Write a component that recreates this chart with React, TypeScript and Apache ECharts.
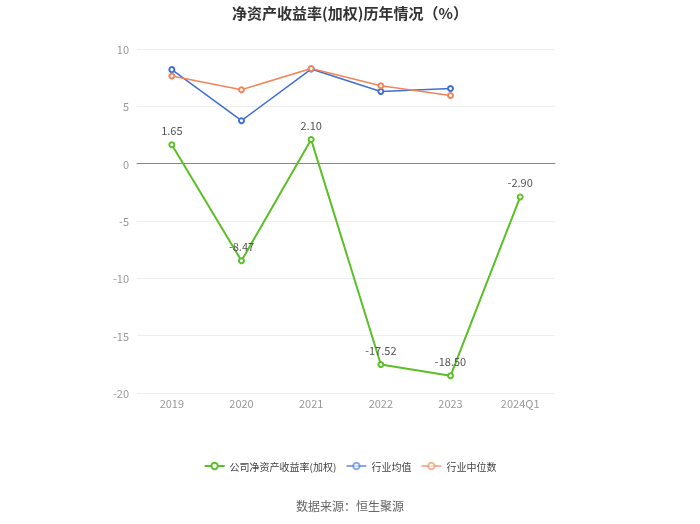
import React, { useEffect, useRef } from "react";
import * as echarts from "echarts";

const categories = ["2019", "2020", "2021", "2022", "2023", "2024Q1"];
const companyRoe = [1.65, -8.47, 2.1, -17.52, -18.5, -2.9];
const industryAvg = [8.2, 3.75, 8.25, 6.3, 6.55, null];
const industryMedian = [7.65, 6.45, 8.3, 6.8, 5.95, null];
const yTicks = { min: -20, max: 10, interval: 5 };

export default function App() {
  const ref = useRef<HTMLDivElement>(null);
  useEffect(() => {
    if (!ref.current) return;
    const chart = echarts.init(ref.current, undefined, { renderer: "svg" });
    const font = "'Microsoft YaHei', 'Noto Sans CJK SC', sans-serif";
    chart.setOption({
      animation: false,
      textStyle: { fontFamily: font },
      title: {
        text: "净资产收益率(加权)历年情况（%）",
        left: "center",
        top: 0,
        textStyle: { fontSize: 15, fontWeight: "bold", color: "#333", fontFamily: font },
      },
      grid: { left: 137, right: 145, top: 49, bottom: 131 },
      legend: {
        top: 456,
        left: "center",
        itemWidth: 20,
        itemHeight: 8,
        itemGap: 9,
        textStyle: { fontSize: 10, color: "#444" },
        data: [
          { name: "公司净资产收益率(加权)" },
          { name: "行业均值", itemStyle: { opacity: 0.6 }, lineStyle: { opacity: 0.6 } },
          { name: "行业中位数", itemStyle: { opacity: 0.6 }, lineStyle: { opacity: 0.6 } },
        ],
      },
      graphic: [
        {
          type: "text",
          left: "center",
          top: 499,
          style: { text: "数据来源：恒生聚源", fontSize: 12, fill: "#666", fontFamily: font },
        },
      ],
      xAxis: {
        type: "category",
        data: categories,
        boundaryGap: true,
        axisLine: { onZero: true, lineStyle: { color: "#888" } },
        axisTick: { alignWithLabel: true, lineStyle: { color: "#888" } },
        axisLabel: { color: "#999", fontSize: 11, margin: 4 },
        position: "bottom",
      },
      yAxis: {
        type: "value",
        min: yTicks.min,
        max: yTicks.max,
        interval: yTicks.interval,
        axisLine: { show: false },
        axisTick: { show: false },
        axisLabel: { color: "#999", fontSize: 11, margin: 8 },
        splitLine: { lineStyle: { color: "#eee" } },
      },
      series: [
        {
          name: "公司净资产收益率(加权)",
          type: "line",
          data: companyRoe,
          symbol: "emptyCircle",
          symbolSize: 5,
          itemStyle: { color: "#5bbf27" },
          lineStyle: { width: 2, color: "#5bbf27" },
          label: {
            show: true,
            position: "top",
            distance: 6,
            color: "#555",
            fontSize: 11,
            formatter: (p: any) => p.value.toFixed(2),
          },
          z: 3,
        },
        {
          name: "行业均值",
          type: "line",
          data: industryAvg,
          symbol: "emptyCircle",
          symbolSize: 5,
          itemStyle: { color: "#3e6fd8" },
          lineStyle: { width: 1.5, color: "#3e6fd8" },
        },
        {
          name: "行业中位数",
          type: "line",
          data: industryMedian,
          symbol: "emptyCircle",
          symbolSize: 5,
          itemStyle: { color: "#f2845a" },
          lineStyle: { width: 1.5, color: "#f2845a" },
        },
      ],
    });
    return () => chart.dispose();
  }, []);
  return (
    <div
      ref={ref}
      style={{ position: "fixed", left: 0, top: 0, width: 700, height: 524 }}
    />
  );
}
